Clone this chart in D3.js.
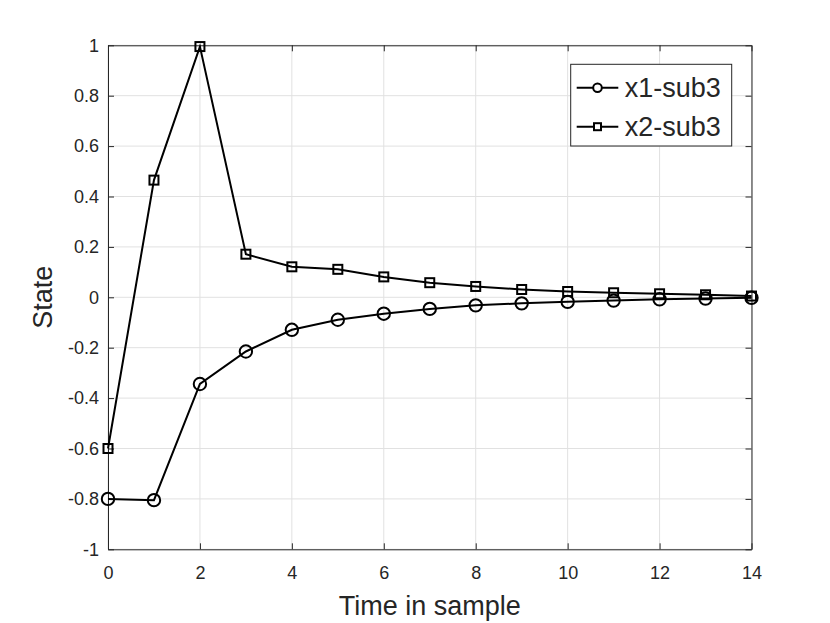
<!DOCTYPE html>
<html>
<head>
<meta charset="utf-8">
<script src="https://cdn.jsdelivr.net/npm/d3@7"></script>
<style>
  body { margin: 0; background: #fff; }
  text { font-family: "Liberation Sans", Arial, Helvetica, sans-serif; fill: #262626; }
</style>
</head>
<body>
<div id="chart"></div>
<script>
// data
const samples = [0, 1, 2, 3, 4, 5, 6, 7, 8, 9, 10, 11, 12, 13, 14];
const x1 = [-0.80, -0.805, -0.344, -0.215, -0.129, -0.089, -0.065, -0.046, -0.032, -0.024, -0.018, -0.013, -0.008, -0.005, -0.002];
const x2 = [-0.60, 0.465, 0.995, 0.171, 0.121, 0.111, 0.081, 0.058, 0.043, 0.031, 0.023, 0.018, 0.014, 0.010, 0.005];
const xTicks = [0, 2, 4, 6, 8, 10, 12, 14];
const yTicks = [-1, -0.8, -0.6, -0.4, -0.2, 0, 0.2, 0.4, 0.6, 0.8, 1];
const seriesNames = ["x1-sub3", "x2-sub3"];

const W = 830, H = 623;
const margin = {top: 45.3, right: 78.5, bottom: 73.7, left: 108};
const width = W - margin.left - margin.right,
      height = H - margin.top - margin.bottom;

const svg = d3.select("#chart")
  .append("svg")
    .attr("width", W)
    .attr("height", H)
  .append("g")
    .attr("transform", `translate(${margin.left},${margin.top})`);

const x = d3.scaleLinear().domain([0, 14]).range([0, width]);
const y = d3.scaleLinear().domain([-1, 1]).range([height, 0]);

// grid
svg.append("g").selectAll("line")
  .data(xTicks)
  .join("line")
    .attr("x1", d => x(d)).attr("x2", d => x(d))
    .attr("y1", 0).attr("y2", height)
    .attr("stroke", "#e1e1e1").attr("stroke-width", 1);
svg.append("g").selectAll("line")
  .data(yTicks)
  .join("line")
    .attr("y1", d => y(d)).attr("y2", d => y(d))
    .attr("x1", 0).attr("x2", width)
    .attr("stroke", "#e1e1e1").attr("stroke-width", 1);

// axes (ticks inside, box on)
const fmt = d => String(d);
function styleAxis(g) {
  g.selectAll(".domain").attr("stroke", "#262626");
  g.selectAll(".tick line").attr("stroke", "#262626");
  g.selectAll(".tick text").style("font-size", "18px").attr("fill", "#262626");
}
svg.append("g")
    .attr("transform", `translate(0,${height})`)
    .call(d3.axisBottom(x).tickValues(xTicks).tickFormat(fmt).tickSize(-6).tickSizeOuter(0).tickPadding(17))
    .call(styleAxis);
svg.append("g")
    .call(d3.axisLeft(y).tickValues(yTicks).tickFormat(fmt).tickSize(-6).tickSizeOuter(0).tickPadding(9))
    .call(styleAxis);
svg.append("g")
    .call(d3.axisTop(x).tickValues(xTicks).tickFormat("").tickSize(-6).tickSizeOuter(0))
    .call(styleAxis);
svg.append("g")
    .attr("transform", `translate(${width},0)`)
    .call(d3.axisRight(y).tickValues(yTicks).tickFormat("").tickSize(-6).tickSizeOuter(0))
    .call(styleAxis);

// lines
const line = d3.line().x((d, i) => x(samples[i])).y(d => y(d));
[x1, x2].forEach(s => {
  svg.append("path")
    .datum(s)
    .attr("d", line)
    .attr("fill", "none")
    .attr("stroke", "#000")
    .attr("stroke-width", 2);
});

// markers
svg.append("g").selectAll("circle")
  .data(x1)
  .join("circle")
    .attr("cx", (d, i) => x(samples[i]))
    .attr("cy", d => y(d))
    .attr("r", 6.2)
    .attr("fill", "none")
    .attr("stroke", "#000")
    .attr("stroke-width", 2);
const sq = 9;
svg.append("g").selectAll("rect")
  .data(x2)
  .join("rect")
    .attr("x", (d, i) => x(samples[i]) - sq / 2)
    .attr("y", d => y(d) - sq / 2)
    .attr("width", sq).attr("height", sq)
    .attr("fill", "none")
    .attr("stroke", "#000")
    .attr("stroke-width", 2);

// axis labels
svg.append("text")
  .attr("text-anchor", "middle")
  .attr("x", width / 2)
  .attr("y", height + 66)
  .style("font-size", "27px")
  .text("Time in sample");
svg.append("text")
  .attr("text-anchor", "middle")
  .attr("transform", "rotate(-90)")
  .attr("x", -y(0))
  .attr("y", -56)
  .style("font-size", "27px")
  .text("State");

// legend
const lg = svg.append("g")
  .attr("transform", `translate(${570.7 - margin.left},${64.3 - margin.top})`);
lg.append("rect")
  .attr("width", 161).attr("height", 81.7)
  .attr("fill", "#fff")
  .attr("stroke", "#262626").attr("stroke-width", 1);
seriesNames.forEach((name, i) => {
  const row = lg.append("g").attr("transform", `translate(0,${23.4 + i * 39})`);
  row.append("line")
    .attr("x1", 6).attr("x2", 47.6)
    .attr("stroke", "#000").attr("stroke-width", 2);
  if (i === 0) {
    row.append("circle").attr("cx", 26.8).attr("r", 4.3)
      .attr("fill", "#fff").attr("stroke", "#000").attr("stroke-width", 2);
  } else {
    row.append("rect").attr("x", 26.8 - 3.5).attr("y", -3.5).attr("width", 7).attr("height", 7)
      .attr("fill", "#fff").attr("stroke", "#000").attr("stroke-width", 2);
  }
  row.append("text")
    .attr("x", 54)
    .attr("dy", "0.35em")
    .style("font-size", "27px")
    .text(name);
});
</script>
</body>
</html>
